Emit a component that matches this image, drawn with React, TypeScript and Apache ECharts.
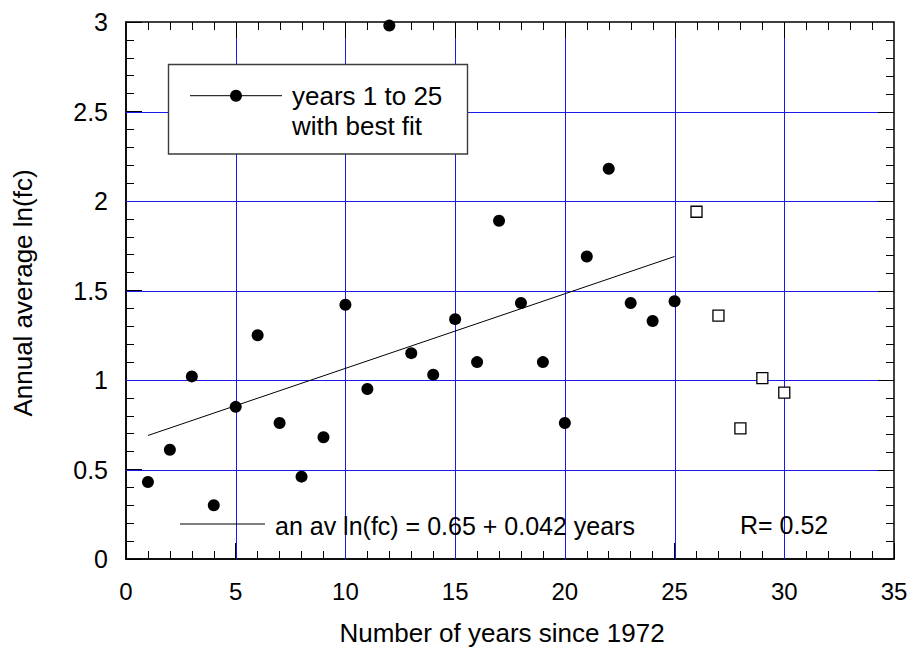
import React, { useEffect, useRef } from "react";
import * as echarts from "echarts";

const years: number[] = [1, 2, 3, 4, 5, 6, 7, 8, 9, 10, 11, 12, 13, 14, 15, 16, 17, 18, 19, 20, 21, 22, 23, 24, 25];
const lnfc: number[] = [0.43, 0.61, 1.02, 0.3, 0.85, 1.25, 0.76, 0.46, 0.68, 1.42, 0.95, 2.98, 1.15, 1.03, 1.34, 1.1, 1.89, 1.43, 1.1, 0.76, 1.69, 2.18, 1.43, 1.33, 1.44];
const laterYears: number[] = [26, 27, 28, 29, 30];
const laterLnfc: number[] = [1.94, 1.36, 0.73, 1.01, 0.93];
const fitYears: number[] = [1, 25];
const fitValues: number[] = [0.69, 1.69];

const xGridValues: number[] = [5, 10, 15, 20, 25, 30];
const yGridValues: number[] = [0.5, 1, 1.5, 2, 2.5];

const legendLines: string[] = ["years 1 to 25", "with best fit"];
const fitLabel = "an av ln(fc) = 0.65 + 0.042 years";
const rLabel = "R= 0.52";
const xTitle = "Number of years since 1972";
const yTitle = "Annual average ln(fc)";

const X_MIN = 0, X_MAX = 35, X_STEP = 5, X_MINOR = 1;
const Y_MIN = 0, Y_MAX = 3, Y_STEP = 0.5, Y_MINOR = 0.1;

const FONT = "'Liberation Sans', Arial, Helvetica, sans-serif";
const GRID_BLUE = "#1a1aee";

export default function App() {
  const ref = useRef<HTMLDivElement>(null);
  useEffect(() => {
    if (!ref.current) return;
    const chart = echarts.init(ref.current, null, { renderer: "svg" });

    // grid lines: [x, y, kind] kind 0 = vertical at x, 1 = horizontal at y
    const gridItems: number[][] = [
      ...xGridValues.map((v) => [v, Y_MIN, 0]),
      ...yGridValues.map((v) => [X_MIN, v, 1]),
    ];

    // tick marks for the top and right frame edges (kind: 0 top major, 1 top minor, 2 right major, 3 right minor)
    const edgeTicks: number[][] = [];
    const nx = Math.round((X_MAX - X_MIN) / X_MINOR);
    for (let i = 1; i < nx; i++) {
      const v = X_MIN + i * X_MINOR;
      const major = Math.abs(v / X_STEP - Math.round(v / X_STEP)) < 1e-6;
      edgeTicks.push([v, Y_MAX, major ? 0 : 1]);
    }
    const ny = Math.round((Y_MAX - Y_MIN) / Y_MINOR);
    for (let i = 1; i < ny; i++) {
      const v = Y_MIN + i * Y_MINOR;
      const major = Math.abs(v / Y_STEP - Math.round(v / Y_STEP)) < 1e-6;
      edgeTicks.push([X_MAX, v, major ? 2 : 3]);
    }

    const axisCommon = {
      axisLine: { show: true, onZero: false, lineStyle: { color: "#000", width: 1.5 } },
      axisTick: { show: true, inside: true, length: 16, lineStyle: { color: "#000", width: 1 } },
      minorTick: { show: true, splitNumber: 5, length: 8, lineStyle: { color: "#000", width: 1 } },
    };
    chart.setOption({
      animation: false,
      backgroundColor: "#fff",
      grid: {
        left: 126, right: 20, top: 22, bottom: 90, containLabel: false,
        show: true, borderColor: "#000", borderWidth: 1.5, backgroundColor: "transparent",
      },
      xAxis: {
        type: "value",
        min: X_MIN,
        max: X_MAX,
        interval: X_STEP,
        position: "bottom",
        ...axisCommon,
        axisLabel: { show: true, margin: 20, fontSize: 24, color: "#000", fontFamily: FONT },
        splitLine: { show: false },
      },
      yAxis: {
        type: "value",
        min: Y_MIN,
        max: Y_MAX,
        interval: Y_STEP,
        position: "left",
        ...axisCommon,
        axisLabel: { show: true, margin: 18, fontSize: 25, color: "#000", fontFamily: FONT },
        splitLine: { show: false },
      },
      series: [
        {
          type: "custom",
          coordinateSystem: "cartesian2d",
          silent: true,
          clip: false,
          z: 2,
          data: gridItems,
          renderItem: (params: any, api: any) => {
            const kind = api.value(2);
            if (kind === 0) {
              const a = api.coord([api.value(0), Y_MIN]);
              const b = api.coord([api.value(0), Y_MAX]);
              const x = Math.round(a[0]) + 0.5;
              return { type: "line", shape: { x1: x, y1: a[1], x2: x, y2: b[1] }, style: { stroke: GRID_BLUE, lineWidth: 1 } };
            }
            const a = api.coord([X_MIN, api.value(1)]);
            const b = api.coord([X_MAX, api.value(1)]);
            const y = Math.round(a[1]) + 0.5;
            return { type: "line", shape: { x1: a[0], y1: y, x2: b[0], y2: y }, style: { stroke: GRID_BLUE, lineWidth: 1 } };
          },
        },
        {
          type: "custom",
          coordinateSystem: "cartesian2d",
          silent: true,
          clip: false,
          z: 6,
          data: edgeTicks,
          renderItem: (params: any, api: any) => {
            const kind = api.value(2);
            const p = api.coord([api.value(0), api.value(1)]);
            const len = kind === 0 || kind === 2 ? 16 : 8;
            if (kind < 2) {
              const x = Math.round(p[0]) + 0.5;
              return { type: "line", shape: { x1: x, y1: p[1], x2: x, y2: p[1] + len }, style: { stroke: "#000", lineWidth: 1 } };
            }
            const y = Math.round(p[1]) + 0.5;
            return { type: "line", shape: { x1: p[0], y1: y, x2: p[0] - len, y2: y }, style: { stroke: "#000", lineWidth: 1 } };
          },
        },
        {
          type: "line",
          data: fitYears.map((x, i) => [x, fitValues[i]]),
          showSymbol: false,
          symbol: "none",
          lineStyle: { color: "#000", width: 1 },
          emphasis: { disabled: true },
          z: 3,
        },
        {
          type: "scatter",
          data: years.map((x, i) => [x, lnfc[i]]),
          symbol: "circle",
          symbolSize: 12,
          itemStyle: { color: "#000", opacity: 1 },
          emphasis: { disabled: true },
          z: 4,
        },
        {
          type: "scatter",
          data: laterYears.map((x, i) => [x, laterLnfc[i]]),
          symbol: "rect",
          symbolSize: 11,
          itemStyle: { color: "#fff", borderColor: "#000", borderWidth: 1.3, opacity: 1 },
          emphasis: { disabled: true },
          z: 4,
        },
      ],
      graphic: [
        {
          type: "rect",
          shape: { x: 168.5, y: 64.5, width: 299, height: 89.5 },
          style: { fill: "#fff", stroke: "#3c3c3c", lineWidth: 1.4 },
          z: 10,
        },
        {
          type: "line",
          shape: { x1: 190, y1: 95.7, x2: 282, y2: 95.7 },
          style: { stroke: "#000", lineWidth: 1 },
          z: 11,
        },
        {
          type: "circle",
          shape: { cx: 236, cy: 95.7, r: 6 },
          style: { fill: "#000" },
          z: 11,
        },
        {
          type: "text",
          x: 292,
          y: 96,
          style: { text: legendLines[0], font: `26px ${FONT}`, fill: "#000", align: "left", verticalAlign: "middle" },
          z: 11,
        },
        {
          type: "text",
          x: 292,
          y: 126,
          style: { text: legendLines[1], font: `26px ${FONT}`, fill: "#000", align: "left", verticalAlign: "middle" },
          z: 11,
        },
        {
          type: "line",
          shape: { x1: 180, y1: 524, x2: 265, y2: 524 },
          style: { stroke: "#000", lineWidth: 1 },
          z: 11,
        },
        {
          type: "text",
          x: 275,
          y: 526,
          style: { text: fitLabel, font: `25px ${FONT}`, fill: "#000", align: "left", verticalAlign: "middle" },
          z: 11,
        },
        {
          type: "text",
          x: 740,
          y: 525,
          style: { text: rLabel, font: `25px ${FONT}`, fill: "#000", align: "left", verticalAlign: "middle" },
          z: 11,
        },
        {
          type: "text",
          x: 502,
          y: 633,
          style: { text: xTitle, font: `26px ${FONT}`, fill: "#000", align: "center", verticalAlign: "middle" },
          z: 11,
        },
        {
          type: "text",
          x: 23,
          y: 293,
          rotation: Math.PI / 2,
          style: { text: yTitle, font: `26px ${FONT}`, fill: "#000", align: "center", verticalAlign: "middle" },
          z: 11,
        },
      ],
    });
    return () => chart.dispose();
  }, []);
  return <div ref={ref} style={{ width: 914, height: 649, position: "absolute", left: 0, top: 0 }} />;
}
